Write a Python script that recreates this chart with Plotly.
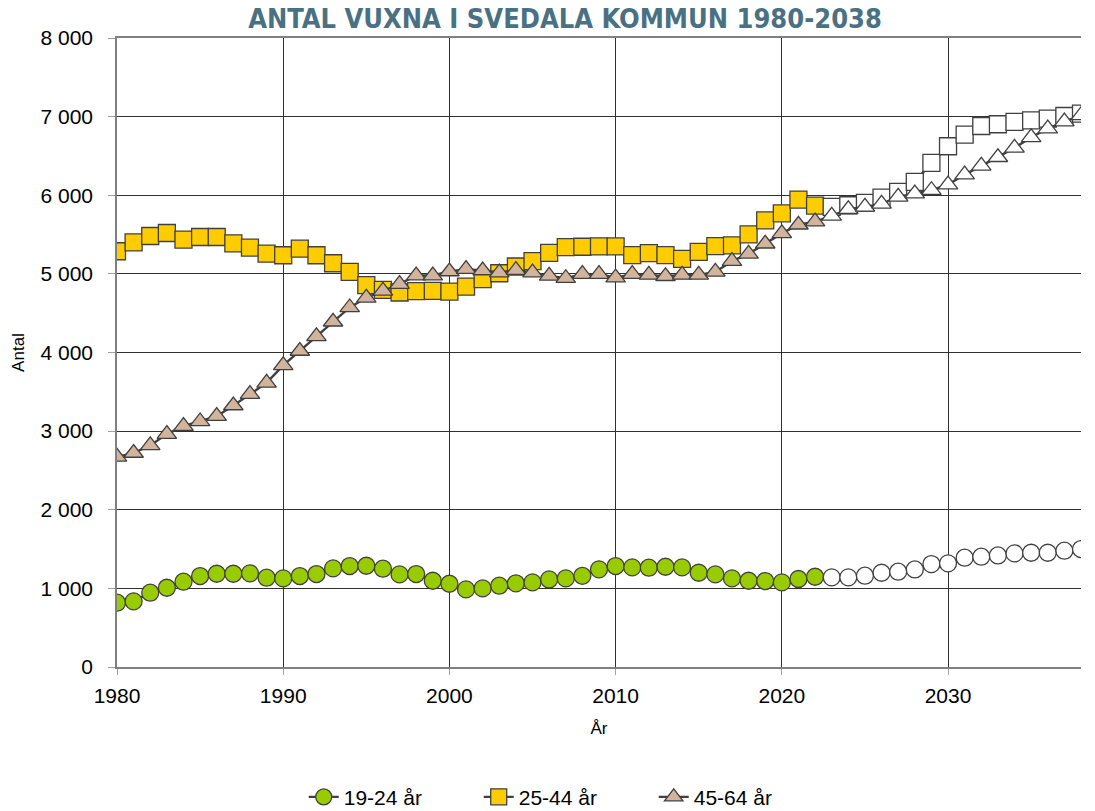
import plotly.graph_objects as go

years = list(range(1980, 2039))
last_actual_year = 2022

age_19_24 = [818, 835, 945, 1008, 1085, 1157, 1186, 1186, 1191, 1136,
             1127, 1157, 1182, 1254, 1284, 1288, 1250, 1178, 1182, 1097,
             1059, 987, 1000, 1034, 1064, 1076, 1114, 1127, 1160, 1242,
             1284, 1267, 1263, 1275, 1267, 1199, 1178, 1127, 1097, 1093,
             1076, 1119, 1148, 1140, 1140, 1161, 1199, 1212, 1241, 1309,
             1318, 1390, 1403, 1419, 1445, 1453, 1453, 1479, 1500]

age_25_44 = [5288, 5400, 5482, 5520, 5435, 5469, 5469, 5389, 5334, 5258,
             5237, 5321, 5237, 5135, 5025, 4856, 4797, 4763, 4780, 4784,
             4774, 4838, 4932, 5008, 5094, 5162, 5268, 5340, 5345, 5349,
             5349, 5238, 5264, 5238, 5191, 5281, 5353, 5362, 5502, 5681,
             5770, 5945, 5868, 5852, 5873, 5903, 5970, 6042, 6169, 6411,
             6623, 6771, 6881, 6903, 6932, 6953, 6975, 7008, 7038]

age_45_64 = [2672, 2722, 2818, 2962, 3063, 3123, 3190, 3326, 3470, 3613,
             3837, 4019, 4205, 4391, 4573, 4696, 4784, 4869, 4979, 4979,
             5030, 5060, 5043, 5017, 5047, 5017, 4974, 4945, 4996, 4996,
             4953, 4996, 4987, 4970, 4987, 4987, 5025, 5162, 5255, 5383,
             5515, 5625, 5664, 5737, 5822, 5852, 5890, 5979, 6021, 6064,
             6136, 6263, 6373, 6483, 6602, 6737, 6847, 6936, 7017]

series_names = ["19-24 år", "25-44 år", "45-64 år"]
series_values = [age_19_24, age_25_44, age_45_64]
series_colors = ["#99CC00", "#FFCC00", "#D2B49C"]
series_symbols = ["circle", "square", "triangle-up"]

x_ticks = [1980, 1990, 2000, 2010, 2020, 2030]
y_ticks = [0, 1000, 2000, 3000, 4000, 5000, 6000, 7000, 8000]

title_text = "ANTAL VUXNA I SVEDALA KOMMUN 1980-2038"
x_title = "År"
y_title = "Antal"

fig = go.Figure()
for name, vals, col, sym in zip(series_names, series_values, series_colors, series_symbols):
    point_colors = [col if y <= last_actual_year else "#FFFFFF" for y in years]
    fig.add_trace(go.Scatter(
        x=years, y=vals, name=name, mode="lines+markers",
        line=dict(color="#404040", width=2.4),
        marker=dict(symbol=sym, size=17, color=point_colors,
                    line=dict(color="#404040", width=1.3)),
    ))

fig.update_layout(
    width=1095, height=811,
    paper_bgcolor="white", plot_bgcolor="white",
    margin=dict(l=117, r=14, t=38, b=144, autoexpand=False),
    separators=", ",
    font=dict(family="Liberation Sans, Arial, sans-serif", size=21, color="black"),
    title=dict(text="<b>" + title_text + "</b>", x=0.516, xanchor="center",
               y=0.977, yanchor="middle",
               font=dict(family="Liberation Sans Narrow, DejaVu Sans Condensed, Arial Narrow, sans-serif",
                         size=27, color="#4A7084")),
    showlegend=True,
    legend=dict(orientation="h", x=0.466, xanchor="center", y=-0.207, yanchor="middle",
                font=dict(size=21), entrywidth=130, entrywidthmode="pixels",
                tracegroupgap=0, bgcolor="rgba(0,0,0,0)"),
    xaxis=dict(range=[1980, 2038], tickvals=x_ticks, showgrid=True,
               gridcolor="#303030", gridwidth=1, zeroline=False,
               showline=True, linecolor="#808080", linewidth=1.5, mirror=True,
               ticks="outside", ticklen=6, tickcolor="#A0A0A0",
               ticklabelstandoff=3,
               title=dict(text=x_title, font=dict(size=17), standoff=16)),
    yaxis=dict(range=[0, 8000], tickvals=y_ticks, tickformat=",d",
               showgrid=True, gridcolor="#303030", gridwidth=1, zeroline=False,
               showline=True, linecolor="#808080", linewidth=1.5,
               ticks="outside", ticklen=7, tickcolor="#A0A0A0",
               ticklabelstandoff=11,
               title=dict(text=y_title, font=dict(size=17), standoff=12)),
)

fig.write_html("out.html", config={"displayModeBar": False},
               post_script="document.body.style.margin='0';document.body.style.overflow='hidden';")
